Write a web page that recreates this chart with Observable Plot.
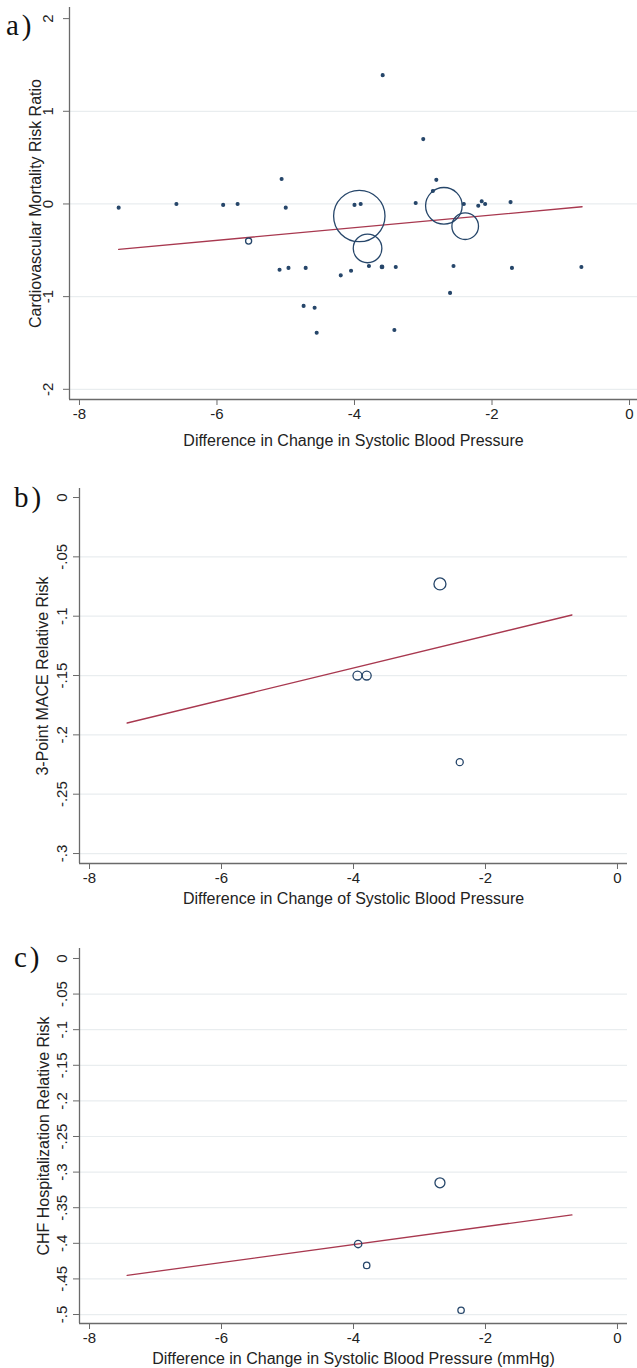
<!DOCTYPE html>
<html><head><meta charset="utf-8">
<script src="https://cdn.jsdelivr.net/npm/d3@7"></script>
<script src="https://cdn.jsdelivr.net/npm/@observablehq/plot@0.6"></script>
<style>
body{margin:0;background:#fff;}
#wrap{position:relative;width:637px;height:1368px;overflow:hidden;}
.panel{position:absolute;left:0;}
.panel svg{display:block;}
.tag{position:absolute;font-family:"Liberation Serif","Times New Roman",serif;font-size:29px;line-height:32px;color:#111;letter-spacing:3px;}
</style></head><body><div id="wrap"></div>
<script>
// ---------- Panel a: cardiovascular mortality ----------
const aX = [-7.43,-6.59,-5.91,-5.70,-5.06,-5.00,-5.09,-4.96,-4.71,-4.74,-4.58,-4.55,-3.59,-3.00,-2.81,-2.86,-4.00,-3.91,-3.11,-2.41,-2.20,-2.15,-2.10,-1.73,-4.20,-4.05,-3.79,-3.60,-3.40,-2.56,-1.71,-0.70,-2.61,-3.42,-5.54,-3.93,-3.81,-2.70,-2.39];
const aY = [-0.04,0.00,-0.01,0.00,0.27,-0.04,-0.71,-0.69,-0.69,-1.10,-1.12,-1.39,1.39,0.70,0.26,0.14,-0.01,0.00,0.01,0.00,-0.02,0.03,0.00,0.02,-0.77,-0.72,-0.67,-0.68,-0.68,-0.67,-0.69,-0.68,-0.96,-1.36,-0.40,-0.13,-0.48,-0.02,-0.24];
const aW = [0.3,0.3,0.3,0.3,0.3,0.3,0.3,0.3,0.3,0.3,0.3,0.3,0.3,0.3,0.3,0.3,0.3,0.3,0.3,0.3,0.3,0.3,0.3,0.3,0.3,0.3,0.3,0.45,0.3,0.3,0.3,0.3,0.3,0.3,1.4,100,31,50.7,26.8];
const aFitX = [-7.43,-0.69];
const aFitY = [-0.49,-0.03];
const aYTicks = [-2,-1,0,1,2];
const aXTicks = [-8,-6,-4,-2,0];

// ---------- Panel b: 3-point MACE ----------
const bX = [-3.94,-3.80,-2.69,-2.39];
const bY = [-0.150,-0.150,-0.0728,-0.223];
const bW = [56,56,100,34];
const bFitX = [-7.43,-0.69];
const bFitY = [-0.190,-0.099];
const bYTicks = [0,-0.05,-0.1,-0.15,-0.2,-0.25,-0.3];

// ---------- Panel c: CHF hospitalization ----------
const cX = [-3.93,-3.80,-2.69,-2.37];
const cY = [-0.401,-0.431,-0.315,-0.494];
const cW = [55,41,100,41];
const cFitX = [-7.43,-0.69];
const cFitY = [-0.445,-0.360];
const cYTicks = [0,-0.05,-0.1,-0.15,-0.2,-0.25,-0.3,-0.35,-0.4,-0.45,-0.5];
const bcXTicks = [-8,-6,-4,-2,0];

const fmt = d => d === 0 ? "0" : String(d).replace(/^(-?)0\./, "$1.");
const zip = (xs, ys, ws) => xs.map((x, i) => ({x, y: ys[i], w: ws ? ws[i] : 1}));

const FONT = "'Liberation Sans', Arial, Helvetica, sans-serif";
const NAVY = "#26466a";
const RED = "#a8384f";
const AXIS = "#6a6a6a";
const GRID = "#e9edef";

function panel(o) {
  const pts = zip(o.xs, o.ys, o.ws);
  const fit = zip(o.fitX, o.fitY);
  return Plot.plot({
    width: 637,
    height: o.height,
    marginTop: o.mt, marginBottom: o.mb, marginLeft: o.ml, marginRight: o.mr,
    style: {fontFamily: FONT, background: "#fff"},
    x: {domain: o.xDomain},
    y: {domain: o.yDomain},
    r: {type: "sqrt", domain: [0, 100], range: [0, o.rMax]},
    marks: [
      Plot.gridY(o.yTicks.filter(t => t !== o.yTop), {stroke: GRID, strokeOpacity: 1, strokeWidth: 1.2}),
      Plot.ruleX([o.xDomain[0]], {stroke: AXIS, strokeWidth: 1.3}),
      Plot.ruleY([o.yDomain[0]], {stroke: AXIS, strokeWidth: 1.3}),
      Plot.axisY(o.yTicks, {tickSize: 6, tickFormat: () => "", stroke: AXIS, label: null}),
      Plot.text(o.yTicks, {y: d => d, frameAnchor: "left", text: fmt, rotate: -90, dx: o.yLabDx, fontSize: 15, fill: "#222", textAnchor: "middle", lineAnchor: "middle"}),
      Plot.axisX(o.xTicks, {tickSize: 6, tickPadding: 3, tickFormat: fmt, fontSize: 15, stroke: AXIS, color: "#222", label: null}),
      Plot.text([o.xTitle], {frameAnchor: "bottom", dy: o.xTitleDy, fontSize: 16, fill: "#222", textAnchor: "middle", lineAnchor: "middle"}),
      Plot.text([o.yTitle], {frameAnchor: "left", rotate: -90, dx: o.yTitleDx, fontSize: 16, fill: "#222", textAnchor: "middle", lineAnchor: "middle"}),
      Plot.line(fit, {x: "x", y: "y", stroke: RED, strokeWidth: 1.3}),
      Plot.dot(pts, {x: "x", y: "y", r: "w", stroke: NAVY, strokeWidth: 1.3, fill: d => d.w < 1 ? NAVY : "none"})
    ]
  });
}

const wrap = document.getElementById("wrap");
function place(svg, top, tag, tagLeft, tagTop) {
  const d = document.createElement("div");
  d.className = "panel"; d.style.top = top + "px";
  d.appendChild(svg); wrap.appendChild(d);
  const t = document.createElement("div");
  t.className = "tag"; t.textContent = tag;
  t.style.left = tagLeft + "px"; t.style.top = tagTop + "px";
  wrap.appendChild(t);
}

place(panel({
  height: 455, mt: 7, mb: 56, ml: 69, mr: 0,
  xDomain: [-8.145, 0.116], yDomain: [-2.11, 2.12], yTop: 2, rMax: 25.7,
  xs: aX, ys: aY, ws: aW, fitX: aFitX, fitY: aFitY,
  yTicks: aYTicks, xTicks: aXTicks, yLabDx: -21, yTitleDx: -34, xTitleDy: 41,
  xTitle: "Difference in Change in Systolic Blood Pressure",
  yTitle: "Cardiovascular Mortality Risk Ratio"
}), 0, "a)", 6, 9);

place(panel({
  height: 460, mt: 33, mb: 52, ml: 79, mr: 10,
  xDomain: [-8.152, 0.152], yDomain: [-0.3084, 0.0076], yTop: 0, rMax: 6,
  xs: bX, ys: bY, ws: bW, fitX: bFitX, fitY: bFitY,
  yTicks: bYTicks, xTicks: bcXTicks, yLabDx: -17, yTitleDx: -37, xTitleDy: 35,
  xTitle: "Difference in Change of Systolic Blood Pressure",
  yTitle: "3-Point MACE Relative Risk"
}), 455, "b)", 14, 481);

place(panel({
  height: 453, mt: 33, mb: 45, ml: 79, mr: 10,
  xDomain: [-8.152, 0.152], yDomain: [-0.5126, 0.014], yTop: 0, rMax: 5,
  xs: cX, ys: cY, ws: cW, fitX: cFitX, fitY: cFitY,
  yTicks: cYTicks, xTicks: bcXTicks, yLabDx: -17, yTitleDx: -36, xTitleDy: 35,
  xTitle: "Difference in Change in Systolic Blood Pressure (mmHg)",
  yTitle: "CHF Hospitalization Relative Risk"
}), 915, "c)", 14, 941);
</script>
</body></html>
